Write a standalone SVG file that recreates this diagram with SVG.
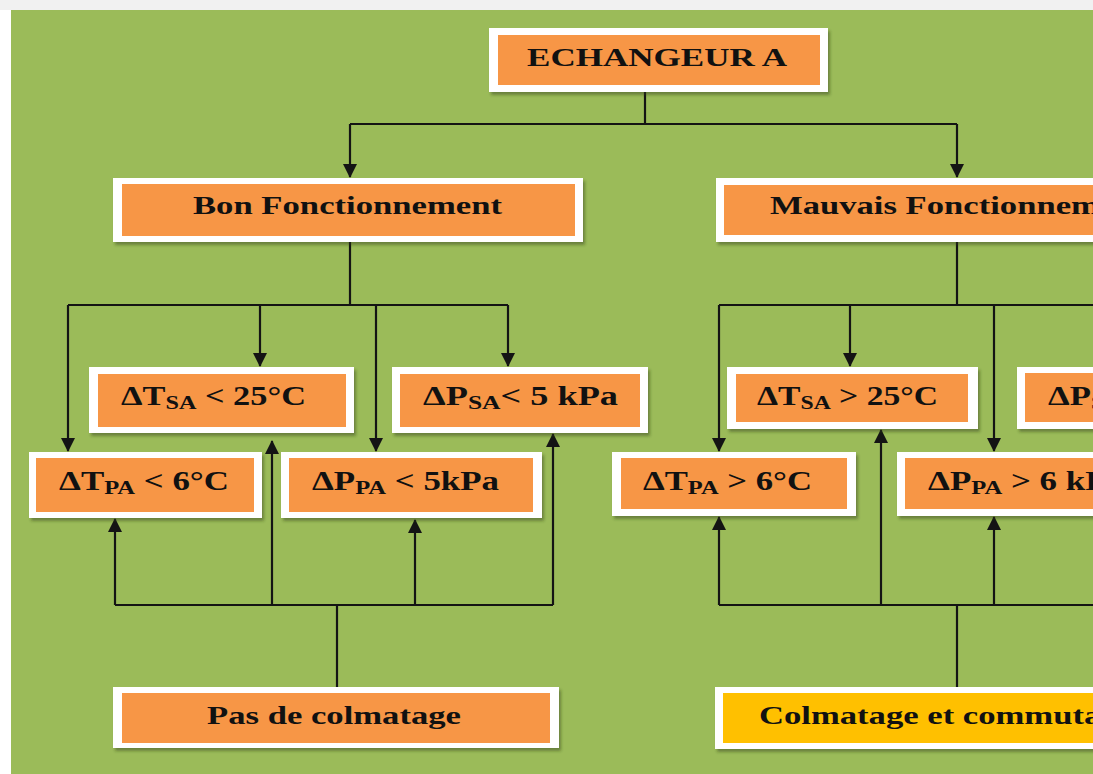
<svg xmlns="http://www.w3.org/2000/svg" width="1093" height="774" viewBox="0 0 1093 774">
  <defs>
    <style>
      .frame { fill: #ffffff; filter: url(#shadow); }
      .fill { fill: #f79646; }
      .fill-gold { fill: #ffc000; }
      .lbl { font-family: "Liberation Serif", "Times New Roman", serif; font-weight: bold; font-size: 26px; fill: #111111; }
      .dl { font-size: 27px; }
      .sub { font-size: 19px; }
      .wire { fill: none; stroke: #141414; stroke-width: 2.2; }
      .arrow { fill: none; stroke: #141414; stroke-width: 2.2; marker-end: url(#head); }
    </style>
    <filter id="shadow" x="-10%" y="-20%" width="120%" height="150%">
      <feDropShadow dx="2" dy="3" stdDeviation="1.5" flood-color="#2f3a1a" flood-opacity="0.45"/>
    </filter>
    <marker id="head" markerUnits="userSpaceOnUse" markerWidth="14" markerHeight="14" refX="13" refY="7" orient="auto">
      <path d="M0,0 L14,7 L0,14 z" fill="#141414"/>
    </marker>
  </defs>

  <!-- page and green panel -->
  <rect x="0" y="0" width="1093" height="774" fill="#ffffff"/>
  <rect x="0" y="0" width="1093" height="10" fill="#f1f1f1"/>
  <rect x="11" y="10" width="1082" height="764" fill="#9bbb59"/>

  <!-- connectors -->
  <g id="connectors">
    <path class="wire" d="M645,92 V124 M350,124 H957"/>
    <path class="arrow" d="M350,124 V177"/>
    <path class="arrow" d="M957,124 V177"/>

    <path class="wire" d="M350,242 V305 M68,305 H508"/>
    <path class="arrow" d="M68,305 V451"/>
    <path class="arrow" d="M260,305 V366"/>
    <path class="arrow" d="M376,305 V451"/>
    <path class="arrow" d="M508,305 V366"/>

    <path class="wire" d="M957,242 V305 M719,305 H1100"/>
    <path class="arrow" d="M719,305 V451"/>
    <path class="arrow" d="M850,305 V366"/>
    <path class="arrow" d="M994,305 V451"/>

    <path class="wire" d="M337,687 V605 M115,605 H553"/>
    <path class="arrow" d="M115,605 V519"/>
    <path class="arrow" d="M272,605 V441"/>
    <path class="arrow" d="M415,605 V520"/>
    <path class="arrow" d="M553,605 V434"/>

    <path class="wire" d="M957,687 V605 M719,605 H1100"/>
    <path class="arrow" d="M719,605 V517"/>
    <path class="arrow" d="M881,605 V430"/>
    <path class="arrow" d="M994,605 V517"/>
  </g>

  <g id="echangeur">
    <rect class="frame" x="489" y="28" width="339" height="64"/>
    <rect class="fill" x="498" y="35" width="322" height="50"/>
    <text class="lbl" x="527" y="66" textLength="260" lengthAdjust="spacingAndGlyphs">ECHANGEUR A</text>
  </g>

  <g id="bon">
    <rect class="frame" x="113" y="178" width="470" height="64"/>
    <rect class="fill" x="122" y="184" width="453" height="52"/>
    <text class="lbl" x="193" y="214" textLength="309" lengthAdjust="spacingAndGlyphs">Bon Fonctionnement</text>
  </g>

  <g id="mauvais">
    <rect class="frame" x="716" y="178" width="420" height="64"/>
    <rect class="fill" x="724" y="185" width="404" height="50"/>
    <text class="lbl" x="770" y="214" textLength="376" lengthAdjust="spacingAndGlyphs">Mauvais Fonctionnement</text>
  </g>

  <g id="dtsa-low">
    <rect class="frame" x="89" y="367" width="265" height="66"/>
    <rect class="fill" x="98" y="374" width="248" height="53"/>
    <text class="lbl dl" x="121" y="405" textLength="185" lengthAdjust="spacingAndGlyphs">ΔT<tspan class="sub" dy="4">SA</tspan><tspan dy="-4"> &lt; 25°C</tspan></text>
  </g>

  <g id="dpsa-low">
    <rect class="frame" x="392" y="367" width="256" height="66"/>
    <rect class="fill" x="400" y="374" width="240" height="53"/>
    <text class="lbl dl" x="423" y="405" textLength="195" lengthAdjust="spacingAndGlyphs">ΔP<tspan class="sub" dy="4">SA</tspan><tspan dy="-4">&lt; 5 kPa</tspan></text>
  </g>

  <g id="dtpa-low">
    <rect class="frame" x="29" y="452" width="233" height="66"/>
    <rect class="fill" x="36" y="458" width="218" height="54"/>
    <text class="lbl dl" x="59" y="490" textLength="170" lengthAdjust="spacingAndGlyphs">ΔT<tspan class="sub" dy="4">PA</tspan><tspan dy="-4"> &lt; 6°C</tspan></text>
  </g>

  <g id="dppa-low">
    <rect class="frame" x="281" y="452" width="261" height="66"/>
    <rect class="fill" x="289" y="458" width="244" height="54"/>
    <text class="lbl dl" x="312" y="490" textLength="187" lengthAdjust="spacingAndGlyphs">ΔP<tspan class="sub" dy="4">PA</tspan><tspan dy="-4"> &lt; 5kPa</tspan></text>
  </g>

  <g id="dtsa-high">
    <rect class="frame" x="727" y="367" width="251" height="62"/>
    <rect class="fill" x="736" y="374" width="232" height="48"/>
    <text class="lbl dl" x="757" y="405" textLength="181" lengthAdjust="spacingAndGlyphs">ΔT<tspan class="sub" dy="4">SA</tspan><tspan dy="-4"> &gt; 25°C</tspan></text>
  </g>

  <g id="dpsa-high">
    <rect class="frame" x="1017" y="367" width="220" height="62"/>
    <rect class="fill" x="1025" y="373" width="204" height="49"/>
    <text class="lbl dl" x="1048" y="405" textLength="195" lengthAdjust="spacingAndGlyphs">ΔP<tspan class="sub" dy="4">SA</tspan><tspan dy="-4"> &gt; 5 kPa</tspan></text>
  </g>

  <g id="dtpa-high">
    <rect class="frame" x="612" y="452" width="244" height="64"/>
    <rect class="fill" x="621" y="458" width="226" height="51"/>
    <text class="lbl dl" x="643" y="490" textLength="169" lengthAdjust="spacingAndGlyphs">ΔT<tspan class="sub" dy="4">PA</tspan><tspan dy="-4"> &gt; 6°C</tspan></text>
  </g>

  <g id="dppa-high">
    <rect class="frame" x="897" y="452" width="260" height="64"/>
    <rect class="fill" x="905" y="458" width="244" height="51"/>
    <text class="lbl dl" x="928" y="490" textLength="196" lengthAdjust="spacingAndGlyphs">ΔP<tspan class="sub" dy="4">PA</tspan><tspan dy="-4"> &gt; 6 kPa</tspan></text>
  </g>

  <g id="pas-colmatage">
    <rect class="frame" x="113" y="687" width="446" height="61"/>
    <rect class="fill" x="122" y="693" width="428" height="50"/>
    <text class="lbl" x="207" y="724" textLength="254" lengthAdjust="spacingAndGlyphs">Pas de colmatage</text>
  </g>

  <g id="colmatage-commutation">
    <rect class="frame" x="715" y="687" width="460" height="62"/>
    <rect class="fill-gold" x="723" y="693" width="444" height="50"/>
    <text class="lbl" x="759" y="724" textLength="400" lengthAdjust="spacingAndGlyphs">Colmatage et commutation</text>
  </g>
</svg>
